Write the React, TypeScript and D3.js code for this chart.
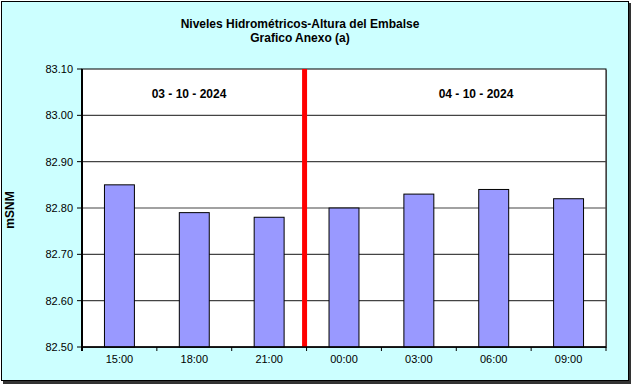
import React from 'react';
import * as d3 from 'd3';

const horas = ['15:00', '18:00', '21:00', '00:00', '03:00', '06:00', '09:00'];
const alturas = [82.85, 82.79, 82.78, 82.80, 82.83, 82.84, 82.82];
const yTicks = [82.5, 82.6, 82.7, 82.8, 82.9, 83.0, 83.1];
const fechas = ['03 - 10 - 2024', '04 - 10 - 2024'];
const titulo = ['Niveles Hidrométricos-Altura del Embalse', 'Grafico Anexo (a)'];

export default function App() {
  const W = 633, H = 386;
  const left = 82, right = 606, top = 69, bottom = 347;

  const x = d3.scaleBand().domain(horas).range([left, right]).paddingInner(0).paddingOuter(0);
  const y = d3.scaleLinear().domain([82.5, 83.1]).range([bottom, top]);
  const bw = x.bandwidth() * 0.4;
  // separador entre dias, un poco a la izquierda del limite 21:00 / 00:00
  const sepX = (x('00:00') as number) - 2;

  const font = 'Liberation Sans, Arial, sans-serif';

  return (
    <svg width={W} height={H} style={{ position: 'absolute', left: 0, top: 0 }}>
      <rect x={3} y={3} width={628} height={381} fill="#333" />
      <rect x={1.5} y={1.5} width={627} height={379} fill="#CCFFFF" stroke="#000" strokeWidth={1} />

      {titulo.map((t, i) => (
        <text key={t} x={300} y={28 + i * 14} textAnchor="middle" fontFamily={font}
          fontWeight="bold" fontSize={12}>{t}</text>
      ))}

      {/* area de trazado */}
      <rect x={left + 1} y={top + 1} width={right - left} height={bottom - top} fill="#888" />
      <rect x={left} y={top} width={right - left} height={bottom - top} fill="#fff" stroke="#000" strokeWidth={1} />

      {yTicks.slice(1, -1).map(v => (
        <line key={v} x1={left} x2={right} y1={y(v)} y2={y(v)} stroke="#444" strokeWidth={1.2} />
      ))}

      {horas.map((h, i) => (
        <rect key={h} x={(x(h) as number) + x.bandwidth() / 2 - bw / 2} y={y(alturas[i])}
          width={bw} height={bottom - y(alturas[i])} fill="#9999FF" stroke="#000" strokeWidth={1} />
      ))}

      <line x1={sepX} x2={sepX} y1={top} y2={bottom} stroke="#FF0000" strokeWidth={5} />

      {/* eje y */}
      <line x1={left} x2={left} y1={top} y2={bottom + 4} stroke="#000" strokeWidth={2} />
      {yTicks.map(v => (
        <g key={v}>
          <line x1={left - 5} x2={left} y1={y(v)} y2={y(v)} stroke="#000" />
          <text x={left - 9} y={y(v) + 4} textAnchor="end" fontFamily={font} fontSize={11}>{v.toFixed(2)}</text>
        </g>
      ))}

      {/* eje x */}
      <line x1={left} x2={right} y1={bottom} y2={bottom} stroke="#000" strokeWidth={1.5} />
      {horas.map(h => (
        <line key={'t' + h} x1={x(h) as number} x2={x(h) as number} y1={bottom} y2={bottom + 4} stroke="#000" />
      ))}
      <line x1={right} x2={right} y1={bottom} y2={bottom + 4} stroke="#000" />
      {horas.map(h => (
        <text key={'l' + h} x={(x(h) as number) + x.bandwidth() / 2} y={bottom + 16} textAnchor="middle"
          fontFamily={font} fontSize={11}>{h}</text>
      ))}

      {fechas.map((f, i) => (
        <text key={f} x={i === 0 ? 189 : 476} y={98} textAnchor="middle" fontFamily={font}
          fontWeight="bold" fontSize={12}>{f}</text>
      ))}

      <text transform="translate(14,210) rotate(-90)" textAnchor="middle" fontFamily={font}
        fontWeight="bold" fontSize={12}>mSNM</text>
    </svg>
  );
}
